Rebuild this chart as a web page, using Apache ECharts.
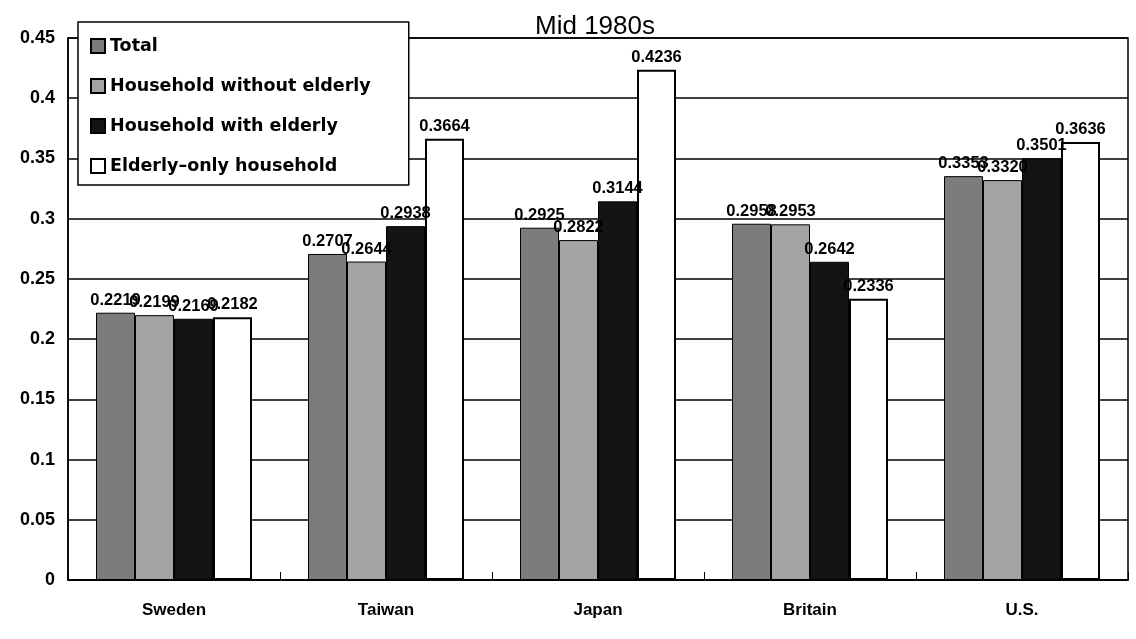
<!DOCTYPE html>
<html><head><meta charset="utf-8">
<script src="https://cdn.jsdelivr.net/npm/echarts@6/dist/echarts.min.js"></script>
<style>html,body{margin:0;padding:0;background:#fff}#c{width:1136px;height:639px}</style>
</head><body><div id="c"></div>
<script>
const categories = ['Sweden', 'Taiwan', 'Japan', 'Britain', 'U.S.'];
const total = [0.2219, 0.2707, 0.2925, 0.2958, 0.3353];
const withoutElderly = [0.2199, 0.2644, 0.2822, 0.2953, 0.3320];
const withElderly = [0.2169, 0.2938, 0.3144, 0.2642, 0.3501];
const elderlyOnly = [0.2182, 0.3664, 0.4236, 0.2336, 0.3636];
const seriesNames = ['Total', 'Household without elderly', 'Household with elderly', 'Elderly\u2013only household'];

const FONT = '"Liberation Sans", Arial, sans-serif';
const chart = echarts.init(document.getElementById('c'));
const lbl = {show: true, position: 'top', distance: 4, color: '#000', fontFamily: FONT, fontWeight: 'bold', fontSize: 16.5,
  formatter: p => p.value.toFixed(4)};
function mk(name, data, color, border) {
  return {name, type: 'bar', data, barWidth: 39, barGap: '0%',
    itemStyle: {color, borderColor: '#000', borderWidth: border}, label: lbl};
}
chart.setOption({
  animation: false,
  backgroundColor: '#fff',
  title: {text: 'Mid 1980s', left: 590, top: 9, textAlign: 'center',
    textStyle: {fontFamily: FONT, fontSize: 26, fontWeight: 'normal', color: '#000'}},
  legend: {orient: 'vertical', left: 78, top: 22, itemGap: 22, itemWidth: 14, itemHeight: 14, icon: 'rect',
    backgroundColor: '#fff', borderColor: '#000', borderWidth: 1.5, padding: [15, 38, 10, 12],
    textStyle: {fontFamily: '"DejaVu Sans", sans-serif', fontSize: 17.5, fontWeight: 'bold', color: '#000', padding: [0, 0, 0, 0]},
    data: seriesNames},
  grid: {left: 68, right: 8, top: 38, bottom: 59, show: true, borderColor: '#000', borderWidth: 1.5},
  xAxis: {type: 'category', data: categories,
    axisLine: {lineStyle: {color: '#000', width: 1.5}},
    axisTick: {show: true, inside: true, length: 8, lineStyle: {color: '#000'}},
    axisLabel: {fontFamily: FONT, fontSize: 17, fontWeight: 'bold', color: '#000', margin: 22}},
  yAxis: {type: 'value', min: 0, max: 0.45, interval: 0.05,
    axisLine: {show: true, lineStyle: {color: '#000', width: 1.5}},
    axisTick: {show: false},
    splitLine: {lineStyle: {color: '#000', width: 1.5}},
    axisLabel: {fontFamily: FONT, fontSize: 18, fontWeight: 'bold', color: '#000', margin: 13,
      formatter: v => String(parseFloat(v.toFixed(2)))}},
  series: [
    mk(seriesNames[0], total, '#7c7c7c', 1),
    mk(seriesNames[1], withoutElderly, '#a4a4a4', 1),
    mk(seriesNames[2], withElderly, '#141414', 1),
    mk(seriesNames[3], elderlyOnly, '#ffffff', 2)
  ]
});
</script></body></html>
